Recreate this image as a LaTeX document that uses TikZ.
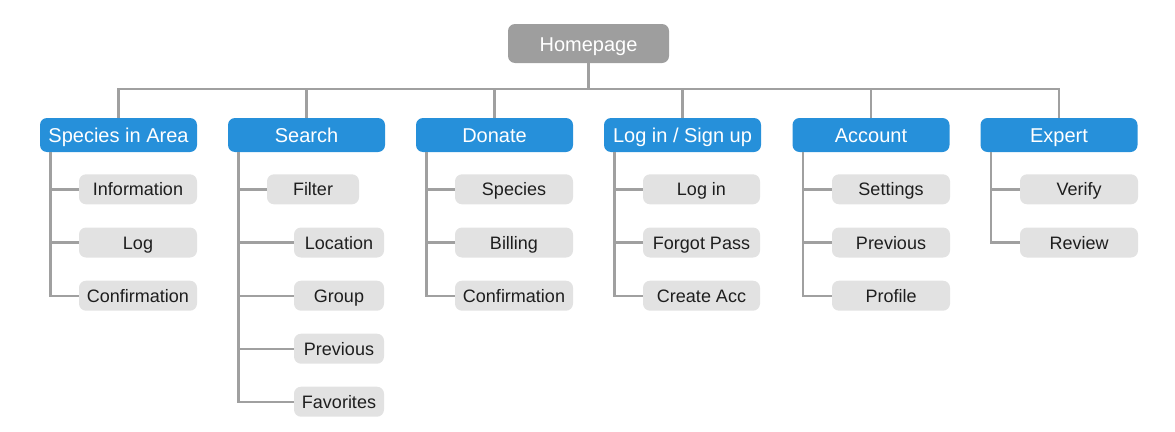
\documentclass[tikz,border=0pt]{standalone}
\usepackage{fontspec}
\setmainfont{Liberation Sans}
\definecolor{topblue}{HTML}{2690DA}
\definecolor{homegray}{HTML}{9E9E9E}
\definecolor{leafgray}{HTML}{E2E2E2}
\definecolor{linegray}{HTML}{A0A0A0}
\definecolor{txtdark}{HTML}{1E1E1E}
\tikzset{
  homebox/.style={fill=homegray, text=white, rounded corners=7pt, minimum width=161pt, minimum height=39pt, inner sep=0pt, text height=16.4pt, text depth=0pt, font=\fontsize{20}{22}\selectfont},
  catbox/.style={fill=topblue, text=white, rounded corners=7pt, minimum width=157pt, minimum height=34pt, inner sep=0pt, text height=15.4pt, text depth=0pt, font=\fontsize{20}{22}\selectfont},
  leafbox/.style={fill=leafgray, text=txtdark, rounded corners=7pt, minimum width=118pt, minimum height=30pt, inner sep=0pt, text height=13.2pt, text depth=0pt, font=\fontsize{18}{20}\selectfont},
  conn/.style={draw=linegray, line width=2.4pt}
}
\begin{document}
\begin{tikzpicture}[x=1pt,y=-1pt]
\useasboundingbox (0,0) rectangle (1175,431);
% root
\node[homebox] (home) at (588.5,43.5) {Homepage};
% categories
\node[catbox] (c1) at (118.5,135) {Species in Area};
\node[catbox] (c2) at (306.5,135) {Search};
\node[catbox] (c3) at (494.5,135) {Donate};
\node[catbox] (c4) at (682.5,135) {Log in / Sign up};
\node[catbox] (c5) at (871,135) {Account};
\node[catbox] (c6) at (1059,135) {Expert};
\coordinate (bus) at (588.5,89);
% leaves: Species in Area
\node[leafbox] (c1a) at (138,189.3) {Information};
\node[leafbox] (c1b) at (138,242.5) {Log};
\node[leafbox] (c1c) at (138,295.7) {Confirmation};
% Search
\node[leafbox, minimum width=92pt] (c2a) at (313,189.3) {Filter};
\node[leafbox, minimum width=90pt] (c2b) at (339,242.5) {Location};
\node[leafbox, minimum width=90pt] (c2c) at (339,295.7) {Group};
\node[leafbox, minimum width=90pt] (c2d) at (339,348.7) {Previous};
\node[leafbox, minimum width=90pt] (c2e) at (339,401.7) {Favorites};
% Donate
\node[leafbox] (c3a) at (514,189.3) {Species};
\node[leafbox] (c3b) at (514,242.5) {Billing};
\node[leafbox] (c3c) at (514,295.7) {Confirmation};
% Log in
\node[leafbox, minimum width=117pt] (c4a) at (701.5,189.3) {Log in};
\node[leafbox, minimum width=117pt] (c4b) at (701.5,242.5) {Forgot Pass};
\node[leafbox, minimum width=117pt] (c4c) at (701.5,295.7) {Create Acc};
% Account
\node[leafbox] (c5a) at (891,189.3) {Settings};
\node[leafbox] (c5b) at (891,242.5) {Previous};
\node[leafbox] (c5c) at (891,295.7) {Profile};
% Expert
\node[leafbox] (c6a) at (1079,189.3) {Verify};
\node[leafbox] (c6b) at (1079,242.5) {Review};
% connectors: root to bus
\draw[conn] (home.south) -- (home.south |- bus);
\draw[conn] (c1.north) -- (c1.north |- bus) -- (c6.north |- bus) -- (c6.north);
\foreach \c in {c2,c3,c4,c5} {\draw[conn] (\c.north) -- (\c.north |- bus);}
% connectors: categories to leaves
\foreach \p/\kids in {c1/{c1a,c1b,c1c}, c2/{c2a,c2b,c2c,c2d,c2e}, c3/{c3a,c3b,c3c}, c4/{c4a,c4b,c4c}, c5/{c5a,c5b,c5c}, c6/{c6a,c6b}} {
  \foreach \k in \kids {\draw[conn] ([xshift=10.5pt]\p.south west) |- (\k.west);}
}
\end{tikzpicture}
\end{document}
